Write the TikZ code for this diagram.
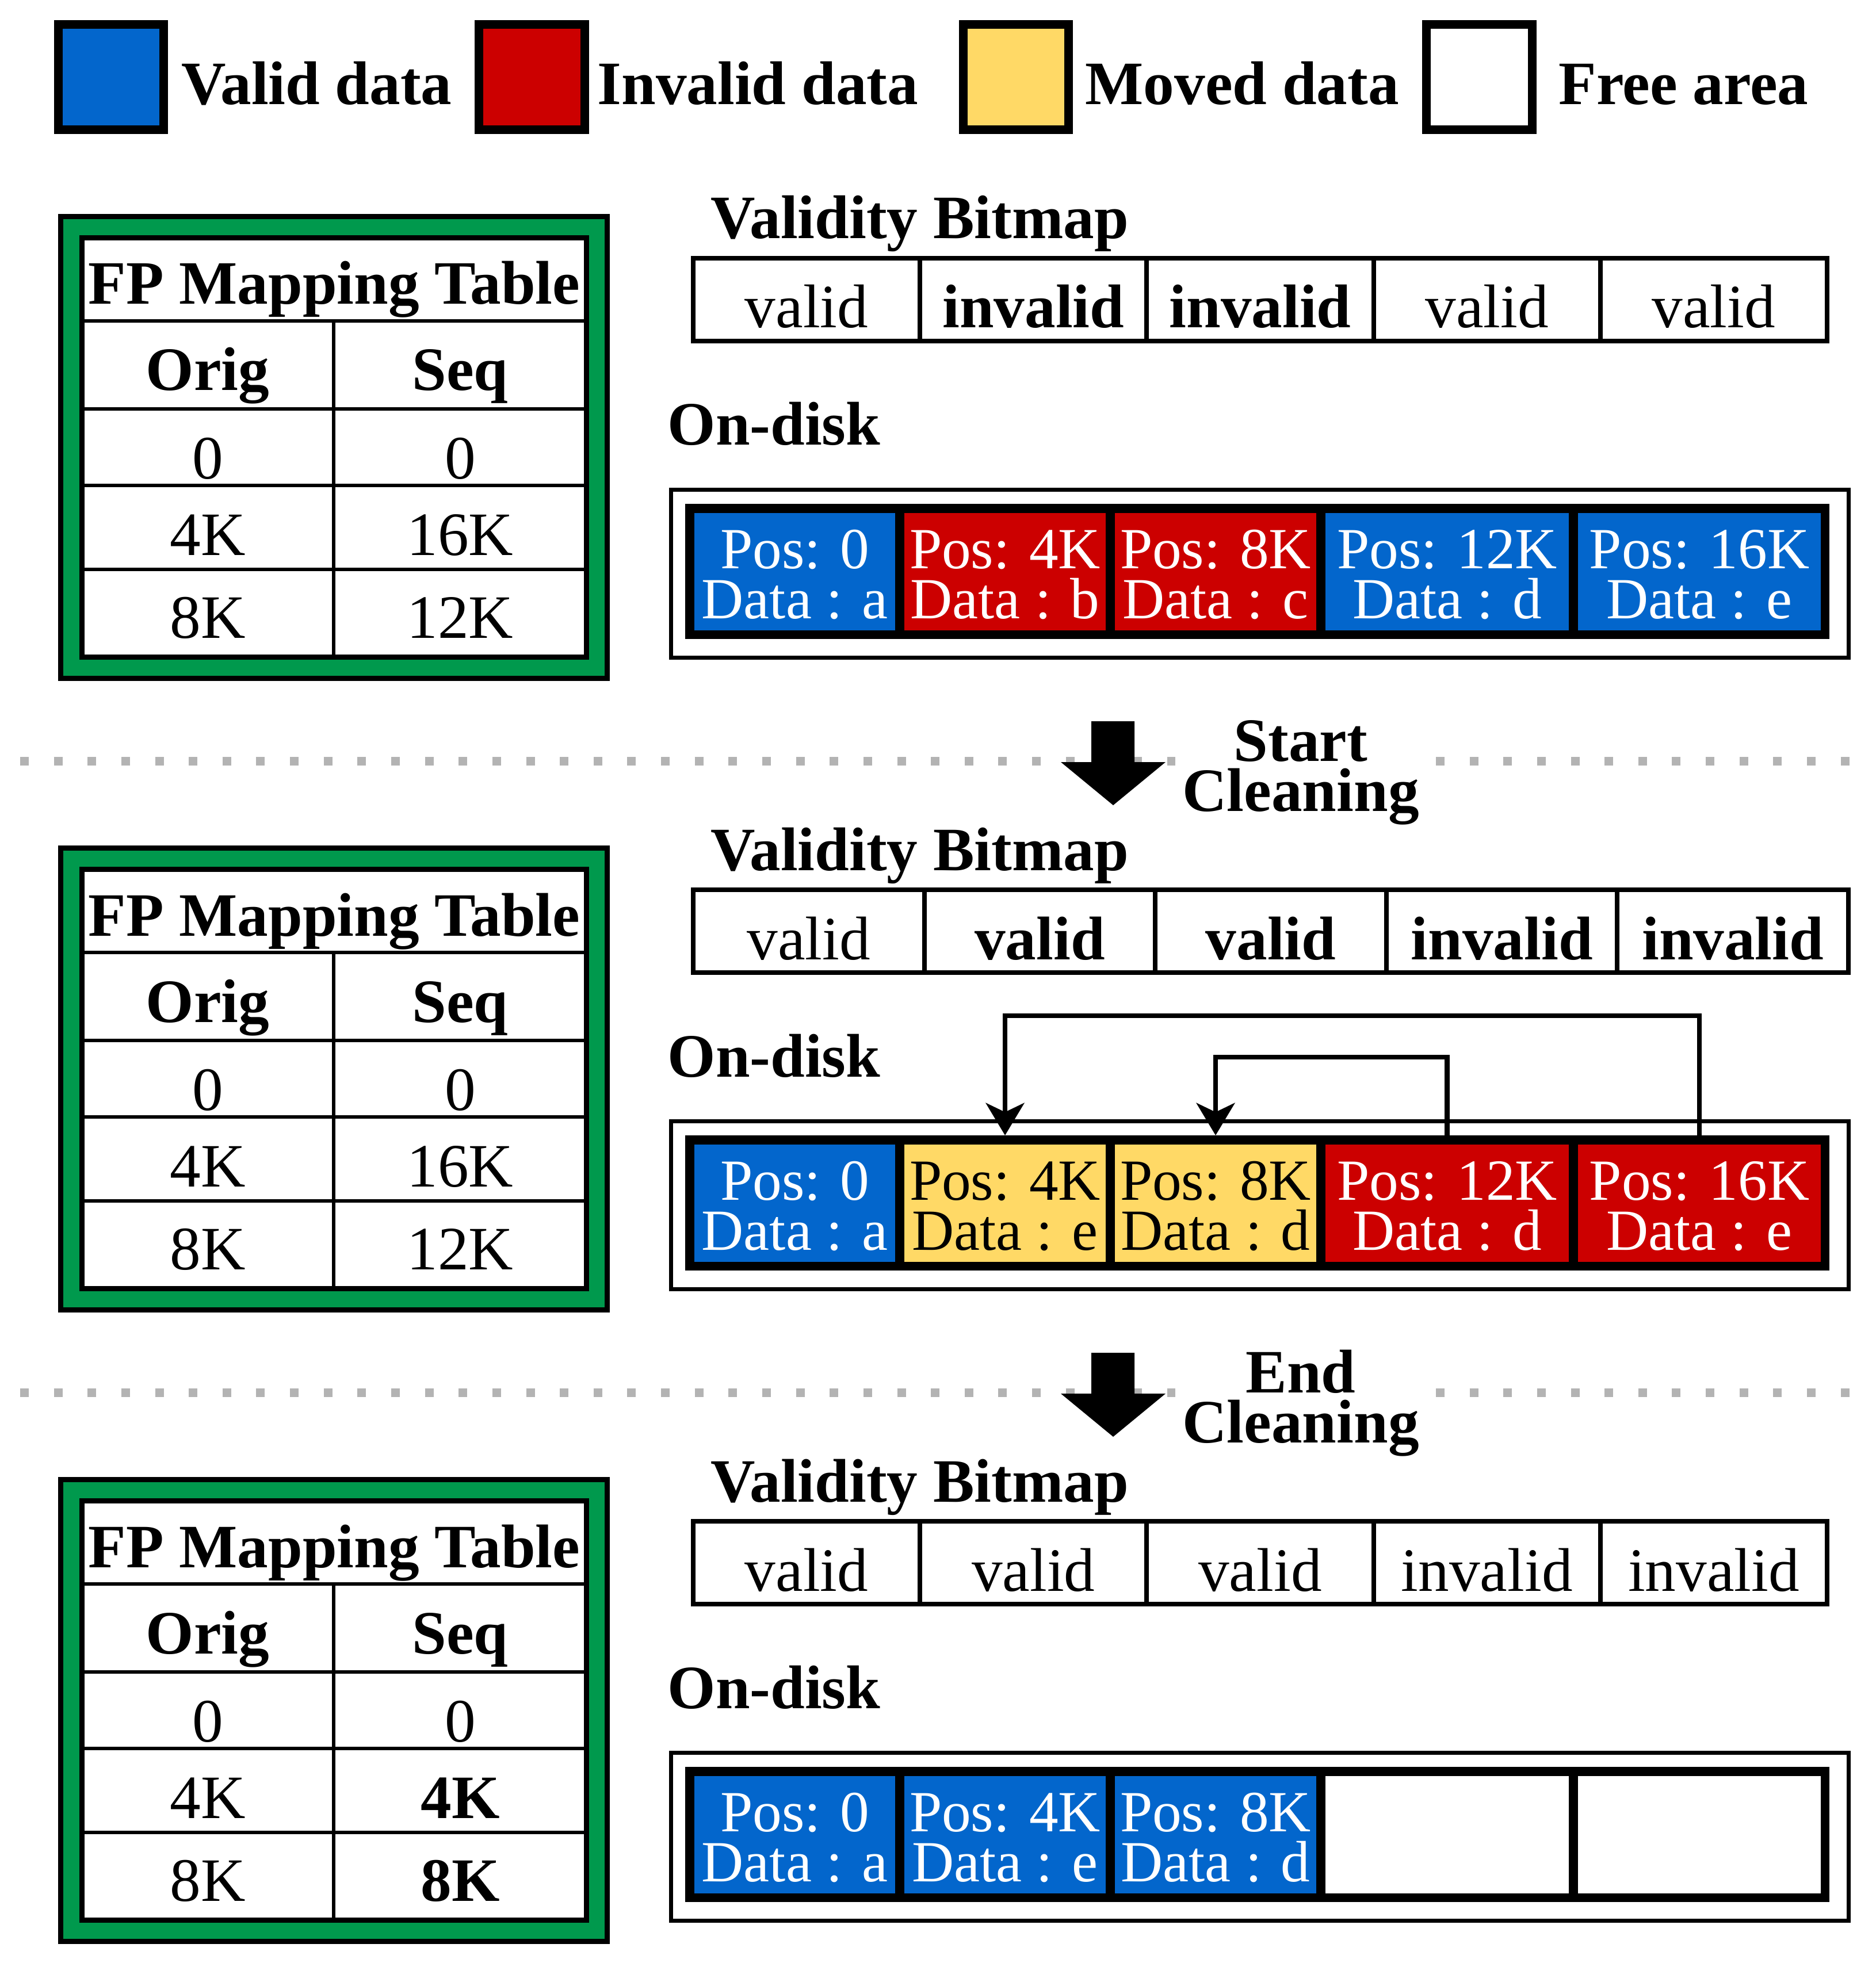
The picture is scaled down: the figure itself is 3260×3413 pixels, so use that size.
\documentclass[tikz,border=0pt]{standalone}
\usepackage{fontspec}
\setmainfont{Liberation Serif}
\usetikzlibrary{arrows.meta,fit,calc}
\definecolor{vblue}{RGB}{3,102,204}
\definecolor{ired}{RGB}{204,0,0}
\definecolor{myellow}{RGB}{255,217,102}
\definecolor{tgreen}{RGB}{0,153,77}
\definecolor{dotgray}{RGB}{179,179,179}
\tikzset{
 lbl/.style={font=\fontsize{30.5}{36}\selectfont\bfseries, inner sep=0pt, anchor=base west},
 ctr/.style={font=\fontsize{30.5}{36}\selectfont, inner sep=0pt, anchor=base},
 bctr/.style={font=\fontsize{30.5}{36}\selectfont\bfseries, inner sep=0pt, anchor=base},
 ctxt/.style={font=\fontsize{28.8}{34}\selectfont, inner sep=0pt, anchor=base},
 legsq/.style={draw=black, line width=4.27pt, inner sep=0pt, outer sep=0pt},
 cellbox/.style={draw=none, inner sep=0pt, outer sep=0pt},
 bitcell/.style={draw=black, line width=2.28pt, inner sep=0pt, outer sep=0pt},
 framebox/.style={draw=black, line width=2.56pt, inner sep=0pt, outer sep=0pt},
 tabline/.style={line width=1.85pt},
 diskout/.style={draw=black, line width=2pt, inner sep=0pt, outer sep=0pt},
 flow/.style={line width=2.3pt, -{Stealth[length=16pt, width=19pt, inset=4.5pt]}},
 sepline/.style={dotgray, line width=4.27pt, dash pattern=on 0.15cm off 0.436cm},
}
% #1 prefix, #2 offset, #3 seq row 2, #4 seq row 3
\newcommand\fptable[4]{%
 \node[framebox, fill=tgreen, fit={(105.5,376.5+#2)(1055.5,1179.5+#2)}] (#1frame) {};
 \node[framebox, fill=white, fit={(142.5,413.5+#2)(1019.5,1142.5+#2)}] (#1tab) {};
 \foreach \yy in {558,711,844,990} {\draw[tabline] (142.5,\yy+#2) -- (1019.5,\yy+#2);}
 \draw[tabline] (580,558+#2) -- (580,1142.5+#2);
 \node[bctr] (#1title) at (581,529+#2) {FP Mapping Table};
 \node[bctr] (#1ho) at (361,679+#2) {Orig};
 \node[bctr] (#1hs) at (800,679+#2) {Seq};
 \node[ctr] (#1o1) at (361,832+#2) {0};
 \node[ctr] (#1s1) at (800,832+#2) {0};
 \node[ctr] (#1o2) at (361,965+#2) {4K};
 \node[ctr] (#1s2) at (800,965+#2) {#3};
 \node[ctr] (#1o3) at (361,1109+#2) {8K};
 \node[ctr] (#1s3) at (800,1109+#2) {#4};
}
% #1 prefix, #2 offset, #3 cell width, #4 list
\newcommand\vbitmap[4]{%
 \node[lbl] (#1vlabel) at (1235,415+#2) {Validity Bitmap};
 \foreach \i/\tx in {#4} {
   \node[bitcell, fit={({1205+\i*#3},449+#2) ({1205+(\i+1)*#3},593+#2)}] (#1b\i) {};
   \node[ctr] (#1bt\i) at ($(#1b\i.center)+(0,49)$) {\tx};
 }
}
% #1 prefix, #2 offset
\newcommand\ondisk[2]{%
 \node[lbl] (#1dlabel) at (1160,774+#2) {On-disk};
 \node[diskout, fill=white, fit={(1166.5,851.5+#2)(3213.5,1143.5+#2)}] (#1out) {};
 \node[cellbox, fill=black, fit={(1191,876+#2)(3180,1111+#2)}] (#1disk) {};
}
% #1 name, #2 offset, #3 x1, #4 x2, #5 fill, #6 text colour, #7 line 1, #8 line 2
\newcommand\dcell[8]{%
 \node[cellbox, fill=#5, fit={(#3,892+#2)(#4,1096+#2)}] (#1) {};
 \node[ctxt, text=#6] (#1a) at ($(#1.center)+(0,-6)$) {#7};
 \node[ctxt, text=#6] (#1b) at ($(#1.center)+(0,81)$) {#8};
}
\begin{document}
\begin{tikzpicture}[x=0.01cm, y=-0.01cm]
\useasboundingbox (0,0) rectangle (3260,3413);

% legend
\node[legsq, fill=vblue, fit={(101.5,42.5)(284.5,225.5)}] (lvalid) {};
\node[lbl] (tvalid) at (315,182) {Valid data};
\node[legsq, fill=ired, fit={(832.5,42.5)(1016.5,225.5)}] (linvalid) {};
\node[lbl] (tinvalid) at (1038,182) {Invalid data};
\node[legsq, fill=myellow, fit={(1674.5,42.5)(1857.5,225.5)}] (lmoved) {};
\node[lbl] (tmoved) at (1886,182) {Moved data};
\node[legsq, fill=white, fit={(2479.5,42.5)(2663.5,225.5)}] (lfree) {};
\node[lbl] (tfree) at (2709,182) {Free area};

% panel 1
\fptable{p1}{0}{16K}{12K}
\vbitmap{p1}{0}{394.2}{0/valid,1/\textbf{invalid},2/\textbf{invalid},3/valid,4/valid}
\ondisk{p1}{0}
\dcell{p1c1}{0}{1207}{1556}{vblue}{white}{Pos: 0}{Data : a}
\dcell{p1c2}{0}{1572}{1922}{ired}{white}{Pos: 4K}{Data : b}
\dcell{p1c3}{0}{1938}{2288}{ired}{white}{Pos: 8K}{Data : c}
\dcell{p1c4}{0}{2304}{2727}{vblue}{white}{Pos: 12K}{Data : d}
\dcell{p1c5}{0}{2743}{3165}{vblue}{white}{Pos: 16K}{Data : e}

% separator 1
\draw[sepline] (35,1323) -- (2043,1323);
\draw[sepline] (2496,1323) -- (3215,1323);
\fill (1897,1254) -- (1972,1254) -- (1972,1325) -- (2026,1325) -- (1935,1400) -- (1844,1325) -- (1897,1325) -- cycle;
\node[bctr] (st1) at (2261,1323) {Start};
\node[bctr] (st2) at (2261,1410) {Cleaning};

% panel 2
\fptable{p2}{1098}{16K}{12K}
\vbitmap{p2}{1098}{401.6}{0/valid,1/\textbf{valid},2/\textbf{valid},3/\textbf{invalid},4/\textbf{invalid}}
\ondisk{p2}{1098}
\dcell{p2c1}{1098}{1207}{1556}{vblue}{white}{Pos: 0}{Data : a}
\dcell{p2c2}{1098}{1572}{1922}{myellow}{black}{Pos: 4K}{Data : e}
\dcell{p2c3}{1098}{1938}{2288}{myellow}{black}{Pos: 8K}{Data : d}
\dcell{p2c4}{1098}{2304}{2727}{ired}{white}{Pos: 12K}{Data : d}
\dcell{p2c5}{1098}{2743}{3165}{ired}{white}{Pos: 16K}{Data : e}
\coordinate (p2top) at (1749,1766);
\coordinate (p2mid) at (2116,1838);
\draw[flow] (p2c5.north |- p2disk.north) -- (p2c5.north |- p2top) -| (p2c2.north |- p2disk.north);
\draw[flow] (p2c4.north |- p2disk.north) -- (p2c4.north |- p2mid) -| (p2c3.north |- p2disk.north);

% separator 2
\draw[sepline] (35,2421) -- (2043,2421);
\draw[sepline] (2496,2421) -- (3215,2421);
\fill (1897,2352) -- (1972,2352) -- (1972,2423) -- (2026,2423) -- (1935,2498) -- (1844,2423) -- (1897,2423) -- cycle;
\node[bctr] (en1) at (2261,2421) {End};
\node[bctr] (en2) at (2261,2508) {Cleaning};

% panel 3
\fptable{p3}{2196}{\textbf{4K}}{\textbf{8K}}
\vbitmap{p3}{2196}{394.2}{0/valid,1/valid,2/valid,3/invalid,4/invalid}
\ondisk{p3}{2196}
\dcell{p3c1}{2196}{1207}{1556}{vblue}{white}{Pos: 0}{Data : a}
\dcell{p3c2}{2196}{1572}{1922}{vblue}{white}{Pos: 4K}{Data : e}
\dcell{p3c3}{2196}{1938}{2288}{vblue}{white}{Pos: 8K}{Data : d}
\dcell{p3c4}{2196}{2304}{2727}{white}{black}{}{}
\dcell{p3c5}{2196}{2743}{3165}{white}{black}{}{}
\end{tikzpicture}
\end{document}
